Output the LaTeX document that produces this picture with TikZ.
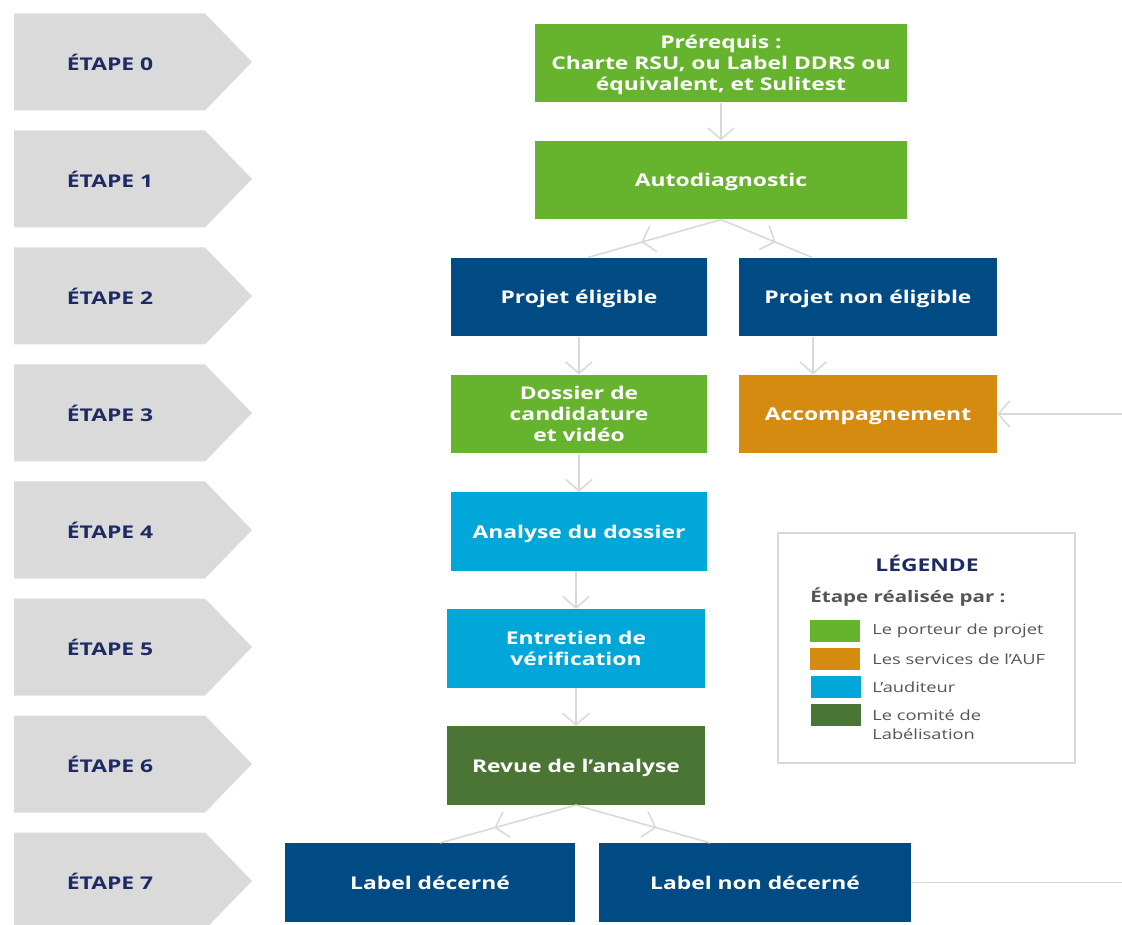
\documentclass[tikz,border=0pt]{standalone}
\usepackage{fontspec}
\setmainfont{Open Sans}[FakeStretch=1.3]
\usetikzlibrary{arrows.meta,positioning,calc,decorations.markings}
\definecolor{aufgreen}{RGB}{102,179,46}
\definecolor{aufblue}{RGB}{0,75,132}
\definecolor{aufcyan}{RGB}{0,167,216}
\definecolor{auforange}{RGB}{213,139,16}
\definecolor{aufdark}{RGB}{74,117,53}
\definecolor{stepgray}{RGB}{218,218,218}
\definecolor{stepnavy}{RGB}{30,42,100}
\definecolor{linkgray}{RGB}{217,217,217}
\definecolor{legtext}{RGB}{85,85,85}

\begin{document}
\begin{tikzpicture}[x=0.02cm, y=-0.02cm,
    box/.style={fill=#1, text=white, font=\bfseries, align=center,
                minimum height=1.57cm, inner sep=2pt, text depth=0pt},
    link/.style={linkgray, line width=0.9pt, -{Straight Barb[length=6.5pt,width=15pt]}},
    midlink/.style={linkgray, line width=0.9pt, postaction={decorate},
        decoration={markings, mark=at position 0.6 with {\arrow{Straight Barb[length=6.5pt,width=15pt]}}}},
    swatch/.style={fill=#1, minimum width=1cm, minimum height=0.44cm, inner sep=0pt},
    legitem/.style={text=legtext, anchor=west, inner sep=0pt, align=left,
                    font=\fontsize{8}{10.8}\selectfont}]
  \useasboundingbox (0,0) rectangle (1122,925);
  % etapes
  \foreach \i in {0,...,7} {
    \pgfmathsetmacro{\yc}{62+117*\i}
    \fill[stepgray] (14,\yc-48.5) -- (205,\yc-48.5) -- (252,\yc)
          -- (205,\yc+48.5) -- (14,\yc+48.5) -- cycle;
    \node[text=stepnavy, font=\bfseries] (step\i) at (110,\yc) {ÉTAPE \i};
  }
  % boites
  \node[box=aufgreen, minimum width=7.44cm] (prereq) at (721,63)
       {Prérequis :\\Charte RSU, ou Label DDRS ou\\équivalent, et Sulitest};
  \node[box=aufgreen, minimum width=7.44cm] (autodiag) at (721,180) {Autodiagnostic};
  \node[box=aufblue, minimum width=5.12cm] (eligible) at (579,297) {Projet éligible};
  \node[box=aufblue, minimum width=5.16cm] (noneligible) at (868,297) {Projet non éligible};
  \node[box=aufgreen, minimum width=5.12cm] (dossier) at (579,414)
       {Dossier de\\candidature\\et vidéo};
  \node[box=auforange, minimum width=5.16cm] (accomp) at (868,414) {Accompagnement};
  \node[box=aufcyan, minimum width=5.12cm] (analyse) at (579,531.5) {Analyse du dossier};
  \node[box=aufcyan, minimum width=5.16cm] (entretien) at (576,648.5)
       {Entretien de\\vérification};
  \node[box=aufdark, minimum width=5.16cm] (revue) at (576,765.5) {Revue de l'analyse};
  \node[box=aufblue, minimum width=5.8cm] (labelok) at (430,882.5) {Label décerné};
  \node[box=aufblue, minimum width=6.24cm] (labelno) at (755,882.5) {Label non décerné};
  \coordinate (retour) at (1122,414);
  \coordinate (sortie) at (1122,882.5);
  % liens
  \draw[link] (prereq) -- (autodiag);
  \draw[midlink] (autodiag.south) -- ($(eligible.north)+(9,0)$);
  \draw[midlink] (autodiag.south) -- ($(noneligible.north)+(-56,0)$);
  \draw[link] (eligible) -- (dossier);
  \draw[link] ($(noneligible.south)+(-55,0)$) -- ($(accomp.north)+(-55,0)$);
  \draw[link] (dossier) -- (analyse);
  \draw[link] (analyse.south -| entretien) -- (entretien);
  \draw[link] (entretien) -- (revue);
  \draw[midlink] (revue.south) -- ($(labelok.north)+(10,0)$);
  \draw[midlink] (revue.south) -- ($(labelno.north)+(-45,0)$);
  \draw[link] (retour) -- (accomp);
  \draw[linkgray, line width=0.9pt] (labelno) -- (sortie);
  % legende
  \node[draw=linkgray, line width=0.8pt, minimum width=5.94cm, minimum height=4.6cm]
       (legend) at (926.5,648) {};
  \node[text=stepnavy, font=\bfseries] (legtitle) at (927,563) {LÉGENDE};
  \node[text=legtext, font=\bfseries\small, anchor=west, inner sep=0pt]
       (legsub) at (810,597) {Étape réalisée par :};
  \node[swatch=aufgreen] (sw1) at (835,631) {};
  \node[swatch=auforange] (sw2) at (835,659) {};
  \node[swatch=aufcyan] (sw3) at (836,687) {};
  \node[swatch=aufdark] (sw4) at (836,715) {};
  \node[legitem] (it1) at (872,631) {Le porteur de projet};
  \node[legitem] (it2) at (872,659) {Les services de l'AUF};
  \node[legitem] (it3) at (872,687) {L'auditeur};
  \node[legitem] (it4) at (872,725) {Le comité de\\Labélisation};
\end{tikzpicture}
\end{document}
